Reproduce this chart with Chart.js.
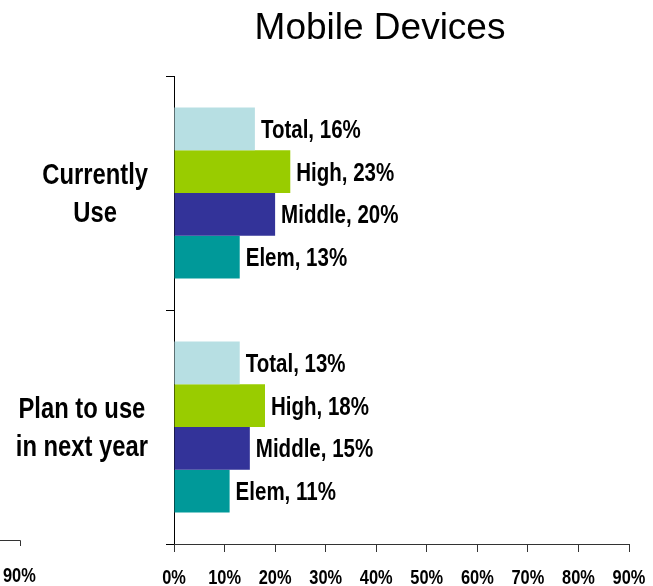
<!DOCTYPE html>
<html><head><meta charset="utf-8">
<script src="https://cdn.jsdelivr.net/npm/chart.js@4"></script>
<style>html,body{margin:0;padding:0;background:#fff}#wrap{width:653px;height:586px}</style>
</head><body><div id="wrap"><canvas id="c" width="653" height="586"></canvas></div>
<script>
const chartTitle = 'Mobile Devices';
const categories = [['Currently', 'Use'], ['Plan to use', 'in next year']];
const seriesNames = ['Total', 'High', 'Middle', 'Elem'];
const totalValues = [16, 13];
const highValues = [23, 18];
const middleValues = [20, 15];
const elemValues = [13, 11];
const seriesColors = ['#B7DFE3', '#99CC00', '#333399', '#009999'];
const xTickLabels = ['0%', '10%', '20%', '30%', '40%', '50%', '60%', '70%', '80%', '90%'];
const strayLabel = '90%';

const seriesValues = [totalValues, highValues, middleValues, elemValues];

const probe = document.createElement('canvas').getContext('2d');
probe.font = 'bold 40px "Liberation Sans Narrow", monospace';
const wN = probe.measureText('Currently abc').width;
probe.font = 'bold 40px monospace';
const wM = probe.measureText('Currently abc').width;
const hasNarrow = Math.abs(wN - wM) > 1;

function setNarrow(ctx, size) {
  ctx.font = hasNarrow ? `bold ${size}px "Liberation Sans Narrow"` : `bold ${size}px "Liberation Sans", Arial`;
}
function narrowWidth(ctx, text, size) {
  setNarrow(ctx, size);
  return ctx.measureText(text).width * (hasNarrow ? 1 : 0.82);
}
function drawNarrow(ctx, text, x, y, size, align) {
  ctx.save();
  setNarrow(ctx, size);
  ctx.textBaseline = 'alphabetic';
  ctx.textAlign = align;
  ctx.fillStyle = '#000';
  ctx.translate(x, y);
  if (!hasNarrow) ctx.scale(0.82, 1);
  ctx.fillText(text, 0, 0);
  ctx.restore();
}

const textPlugin = {
  id: 'textPlugin',
  afterDraw(chart) {
    const ctx = chart.ctx;
    const xs = chart.scales.x, ys = chart.scales.y;
    // title
    ctx.save();
    ctx.font = '37px "Liberation Sans", Arial';
    ctx.fillStyle = '#000';
    ctx.textAlign = 'center';
    ctx.textBaseline = 'alphabetic';
    ctx.fillText(chartTitle, 380, 39);
    ctx.restore();
    // category labels
    const catSize = 29, capC = 0.716 * catSize, gap = 38;
    categories.forEach((lines, i) => {
      const cy = ys.getPixelForValue(i);
      const widest = Math.max(...lines.map(l => narrowWidth(ctx, l, catSize)));
      const cx = ys.right - 26 - widest / 2;
      lines.forEach((l, j) => {
        const by = cy + (j - (lines.length - 1) / 2) * gap + capC / 2;
        drawNarrow(ctx, l, cx, by, catSize, 'center');
      });
    });
    // x tick labels
    xs.ticks.forEach((t, i) => {
      const px = xs.getPixelForValue(t.value);
      drawNarrow(ctx, xTickLabels[i], px, 584, 20, 'center');
    });
    // data labels
    const lblSize = 25, capL = 0.716 * lblSize;
    chart.data.datasets.forEach((ds, d) => {
      const meta = chart.getDatasetMeta(d);
      meta.data.forEach((el, i) => {
        drawNarrow(ctx, `${seriesNames[d]}, ${ds.data[i]}%`, el.x + 6, el.y + capL / 2, lblSize, 'left');
      });
    });
    // stray fragment of neighbouring chart
    ctx.save();
    ctx.strokeStyle = '#333';
    ctx.lineWidth = 1;
    ctx.beginPath();
    ctx.moveTo(0, 540.5); ctx.lineTo(20.5, 540.5); ctx.lineTo(20.5, 546);
    ctx.stroke();
    ctx.restore();
    drawNarrow(ctx, strayLabel, 3, 582, 20, 'left');
  }
};

new Chart(document.getElementById('c'), {
  type: 'bar',
  data: {
    labels: categories,
    datasets: seriesNames.map((n, k) => ({
      label: n,
      data: seriesValues[k],
      backgroundColor: seriesColors[k],
      borderWidth: 0,
      barPercentage: 1,
      categoryPercentage: 0.73
    }))
  },
  options: {
    indexAxis: 'y',
    responsive: false,
    animation: false,
    devicePixelRatio: 1,
    layout: { padding: { top: 76, right: 24, left: 0, bottom: 0 } },
    plugins: { legend: { display: false }, title: { display: false }, tooltip: { enabled: false } },
    scales: {
      y: {
        type: 'category',
        grid: { offset: true, drawOnChartArea: false, drawTicks: true, tickLength: 8, color: '#000', lineWidth: 1 },
        border: { color: '#000', width: 1 },
        ticks: { display: false },
        afterFit(s) { s.width = 174; }
      },
      x: {
        type: 'linear',
        min: 0, max: 90,
        ticks: { stepSize: 10, display: false },
        grid: { drawOnChartArea: false, drawTicks: true, tickLength: 8, color: '#333', lineWidth: 1 },
        border: { color: '#333', width: 1 },
        afterFit(s) { s.height = 42; }
      }
    }
  },
  plugins: [textPlugin]
});
</script>
</body></html>
